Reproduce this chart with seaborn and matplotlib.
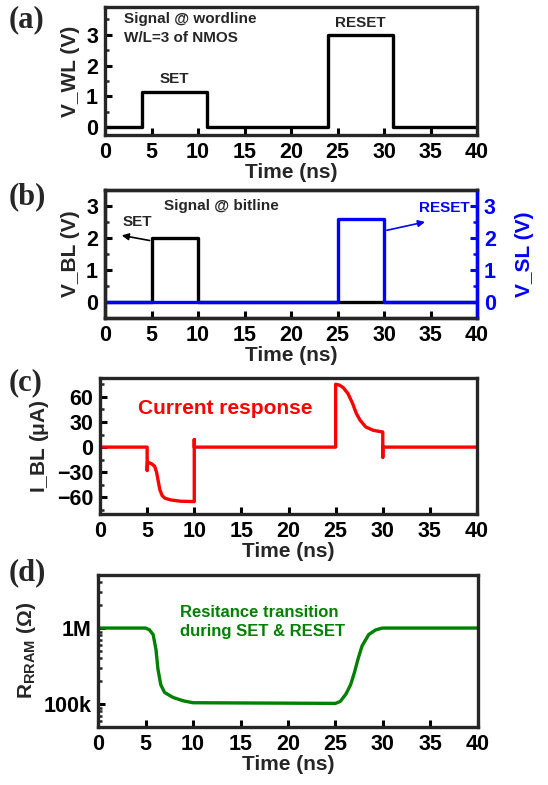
import matplotlib
matplotlib.use("Agg")
import matplotlib.pyplot as plt
import seaborn as sns
import pandas as pd
from matplotlib.ticker import MultipleLocator, LogLocator, NullFormatter

# (a) word line pulse
t_wl = [0, 4, 4, 11, 11, 24, 24, 31, 31, 40]
v_wl = [0, 0, 1.15, 1.15, 0, 0, 3.0, 3.0, 0, 0]

# (b) bit line / source line pulses
t_bl = [0, 5, 5, 10, 10, 40]
v_bl = [0, 0, 2.0, 2.0, 0, 0]
t_sl = [0, 25, 25, 30, 30, 40]
v_sl = [0, 0, 2.6, 2.6, 0, 0]

# (c) bit line current (uA)
t_i = [0, 5, 5, 5.05, 5.5, 5.8, 6.0, 6.2, 6.35, 6.6, 6.9, 7.5, 8.5, 10, 10, 10,
       25, 25, 25.4, 25.8, 26.3, 26.8, 27.2, 27.6, 28.2, 29.0, 30, 30, 30, 40]
i_bl = [0, 0, -28, -18, -20, -23, -30, -42, -51, -58, -61, -63, -64.5, -65, 9, 0,
        0, 75, 74, 71, 64, 52, 40, 32, 24, 20, 18, -12, 0, 0]

# (d) RRAM resistance (ohm)
t_r = [0, 5, 5.4, 5.8, 6.1, 6.3, 6.6, 7.0, 7.9, 9, 10, 25, 25.5, 26.1, 26.6,
       27, 27.4, 27.8, 28.5, 29.2, 29.8, 30, 40]
r_rram = [1e6, 1e6, 9.5e5, 8.2e5, 5.2e5, 2.9e5, 1.8e5, 1.42e5, 1.22e5, 1.1e5,
          1.04e5, 1.02e5, 1.08e5, 1.35e5, 1.8e5, 2.6e5, 4e5, 5.8e5, 8.2e5,
          9.4e5, 9.9e5, 1e6, 1e6]

xticks = [0, 5, 10, 15, 20, 25, 30, 35, 40]

sns.set_style("ticks")
plt.rcParams['font.family'] = ['Liberation Sans', 'DejaVu Sans']
plt.rcParams['font.weight'] = 'bold'
plt.rcParams['axes.labelweight'] = 'bold'
plt.rcParams['mathtext.default'] = 'regular'

fig = plt.figure(figsize=(5.48, 7.85), dpi=100)
ax_a = fig.add_axes([0.1916, 0.828, 0.679, 0.163])
ax_b = fig.add_axes([0.1916, 0.595, 0.679, 0.163])
ax_c = fig.add_axes([0.1825, 0.345, 0.688, 0.173])
ax_d = fig.add_axes([0.179, 0.074, 0.693, 0.1936])

LW = 2.4
TICK_FS = 15.5


def style(ax):
    for s in ax.spines.values():
        s.set_linewidth(2.4)
    ax.tick_params(direction='in', width=2.2, length=5, labelsize=TICK_FS,
                   colors='black', top=False, right=False, pad=5)
    ax.tick_params(which='minor', direction='in', width=1.8, length=3)
    ax.set_xlim(0, 40)
    ax.set_xticks(xticks)
    ax.set_xlabel("Time (ns)", fontsize=15, labelpad=0)
    for lab in ax.get_xticklabels() + ax.get_yticklabels():
        lab.set_fontweight('bold')


def panel_label(y, text):
    fig.text(0.015, y, text, fontsize=22, fontweight='bold',
             family='Liberation Serif', va='center')


# ---- (a)
sns.lineplot(x=t_wl, y=v_wl, ax=ax_a, color='black', lw=LW, sort=False, estimator=None)
style(ax_a)
ax_a.set_ylim(-0.25, 3.9)
ax_a.set_yticks([0, 1, 2, 3])
ax_a.yaxis.set_minor_locator(MultipleLocator(0.5))
ax_a.set_ylabel("V_WL (V)", fontsize=15)
ax_a.text(0.05, 0.83, "Signal @ wordline\nW/L=3 of NMOS", transform=ax_a.transAxes,
          fontsize=11, fontweight='bold', va='center', linespacing=1.45)
ax_a.text(7.5, 1.35, "SET", ha='center', va='bottom', fontsize=11, fontweight='bold')
ax_a.text(27.5, 3.15, "RESET", ha='center', va='bottom', fontsize=11, fontweight='bold')
panel_label(0.975, "(a)")

# ---- (b)
sns.lineplot(x=t_bl, y=v_bl, ax=ax_b, color='black', lw=LW, sort=False, estimator=None)
ax_b2 = ax_b.twinx()
sns.lineplot(x=t_sl, y=v_sl, ax=ax_b2, color='#0000ff', lw=LW, sort=False, estimator=None)
style(ax_b)
ax_b.set_ylim(-0.5, 3.5)
ax_b.set_yticks([0, 1, 2, 3])
ax_b.yaxis.set_minor_locator(MultipleLocator(0.5))
ax_b.set_ylabel("V_BL (V)", fontsize=15)
ax_b2.set_ylim(-0.5, 3.5)
ax_b2.set_yticks([0, 1, 2, 3])
ax_b2.yaxis.set_minor_locator(MultipleLocator(0.5))
for s in ax_b2.spines.values():
    s.set_linewidth(2.4)
ax_b2.spines['right'].set_color('#0000ff')
ax_b2.tick_params(direction='in', width=2.2, length=5, labelsize=TICK_FS,
                  colors='#0000ff', pad=5)
ax_b2.tick_params(which='minor', direction='in', width=1.8, length=3, colors='#0000ff')
for lab in ax_b2.get_yticklabels():
    lab.set_fontweight('bold')
ax_b2.set_ylabel("V_SL (V)", fontsize=15, color='#0000ff', labelpad=14)
ax_b.text(12.5, 3.0, "Signal @ bitline", ha='center', va='center', fontsize=11, fontweight='bold')
ax_b.annotate("", xy=(1.8, 2.08), xytext=(4.8, 1.92),
              arrowprops=dict(arrowstyle='-|>', color='black', lw=1.2, mutation_scale=10,
                              shrinkA=0, shrinkB=0))
ax_b.text(3.5, 2.5, "SET", ha='center', va='center', fontsize=11, fontweight='bold')
ax_b2.annotate("", xy=(34.4, 2.5), xytext=(30.3, 2.24),
               arrowprops=dict(arrowstyle='-|>', color='#0000ff', lw=1.2, mutation_scale=10,
                               shrinkA=0, shrinkB=0))
ax_b2.text(39.2, 2.95, "RESET", ha='right', va='center', fontsize=11,
           fontweight='bold', color='#0000ff')
panel_label(0.749, "(b)")

# ---- (c)
sns.lineplot(x=t_i, y=i_bl, ax=ax_c, color='#ff0000', lw=LW, sort=False, estimator=None)
style(ax_c)
ax_c.set_ylim(-80, 82)
ax_c.set_yticks([-60, -30, 0, 30, 60])
ax_c.yaxis.set_minor_locator(MultipleLocator(15))
ax_c.set_ylabel("I_BL ($\\mu$A)", fontsize=15)
ax_c.text(4, 46, "Current response", color='#ff0000', fontsize=15,
          fontweight='bold', va='center')
panel_label(0.512, "(c)")

# ---- (d)
sns.lineplot(x=t_r, y=r_rram, ax=ax_d, color='#008000', lw=LW, sort=False, estimator=None)
ax_d.set_yscale('log')
style(ax_d)
ax_d.set_ylim(5e4, 5e6)
ax_d.set_yticks([1e5, 1e6], ["100k", "1M"])
ax_d.yaxis.set_minor_locator(LogLocator(base=10, subs=range(2, 10)))
ax_d.yaxis.set_minor_formatter(NullFormatter())
for lab in ax_d.get_yticklabels():
    lab.set_fontweight('bold')
ax_d.set_ylabel("R$_{\\mathregular{RRAM}}$ ($\\Omega$)", fontsize=15)
ax_d.text(0.215, 0.69, "Resitance transition\nduring SET & RESET", transform=ax_d.transAxes,
          color='#008000', fontsize=12, fontweight='bold', va='center', linespacing=1.4)
panel_label(0.27, "(d)")

fig.savefig("out.png", dpi=100)
